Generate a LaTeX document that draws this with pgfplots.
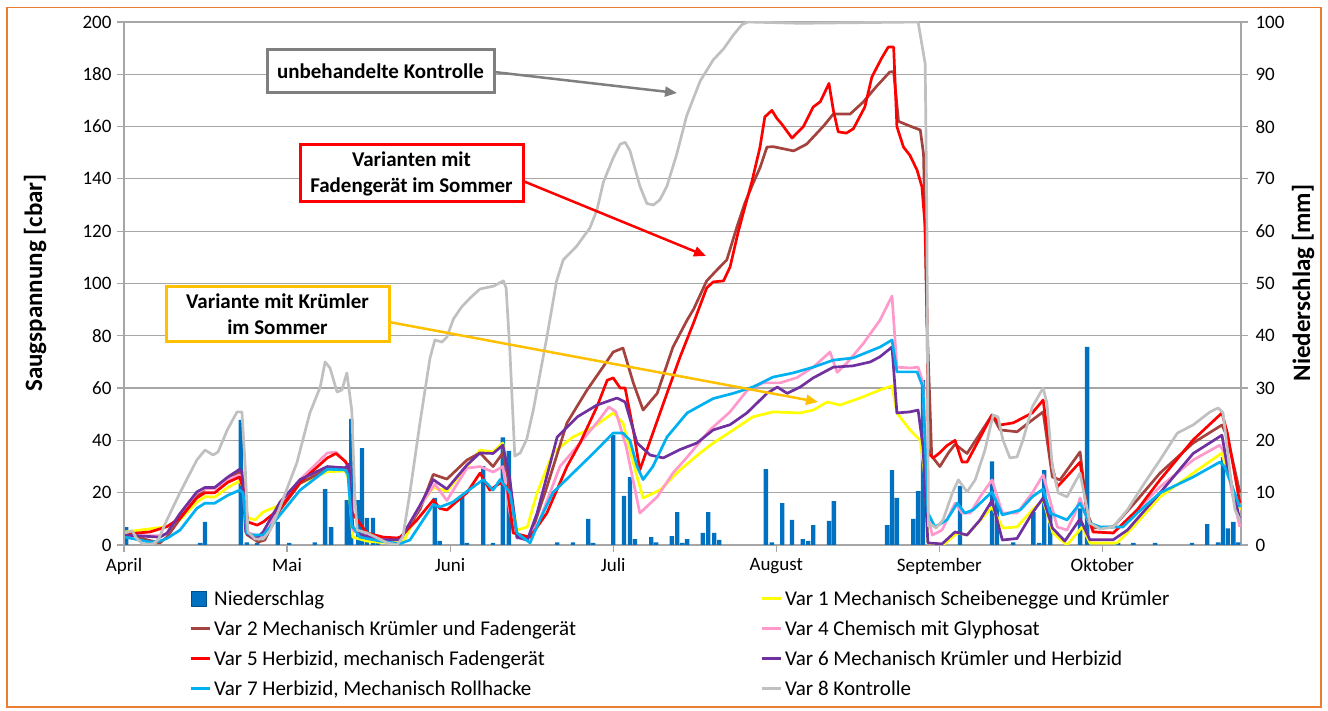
\documentclass[border=0pt]{standalone}
\usepackage{fontspec}
\setmainfont{Carlito}
\usepackage{pgfplots}
\pgfplotsset{compat=1.18}
\usetikzlibrary{arrows.meta}
\definecolor{cYel}{RGB}{255,255,0}
\definecolor{cBrn}{RGB}{164,66,62}
\definecolor{cPnk}{RGB}{255,153,204}
\definecolor{cRed}{RGB}{255,0,0}
\definecolor{cPur}{RGB}{112,48,160}
\definecolor{cBlu}{RGB}{0,176,240}
\definecolor{cGry}{RGB}{192,192,192}
\definecolor{cBar}{RGB}{0,112,192}
\definecolor{cGrid}{RGB}{166,166,166}
\definecolor{cOrg}{RGB}{237,125,49}
\definecolor{cGold}{RGB}{255,192,0}
\definecolor{cBox}{RGB}{127,127,127}
\begin{document}
\begin{tikzpicture}[x=1pt,y=1pt]
\useasboundingbox (0,0) rectangle (1328,711);
\draw[cOrg, line width=1.5pt] (7,4) rectangle (1321,703.5);
% ---------- precipitation (right axis) ----------
\begin{axis}[
  at={(124pt,166pt)}, anchor=south west,
  scale only axis, width=1117pt, height=523pt,
  xmin=0, xmax=205.5, ymin=0, ymax=100,
  axis x line*=bottom, axis y line*=right,
  axis line style={cGrid, line width=1.2pt},
  xtick={0,30,60,90,120,150,180},
  xticklabels={April,Mai,Juni,Juli,August,September,Oktober},
  ytick={0,10,...,100},
  ymajorgrids, grid style={cGrid, line width=1.2pt},
  tick align=outside, major tick length=7pt,
  tick style={cGrid, line width=1.2pt},
  ticklabel style={font=\fontsize{19}{21}\selectfont},
  /pgf/number format/assume math mode=true,
  xticklabel style={yshift=-3pt},
  yticklabel style={xshift=4pt},
]
\addplot[ybar, bar width=0.8, fill=cBar, draw=none] coordinates {
(0.4,3.4) (14.0,0.4) (14.9,4.4) (21.5,23.9) (22.6,0.5) (24.5,0.4) (28.3,4.4) (30.4,0.4)
(35.1,0.5) (37.0,10.7) (38.1,3.4) (41.0,8.6) (41.8,24.1) (43.1,8.6) (43.8,18.5) (44.7,5.2)
(45.8,5.2) (46.7,0.5) (57.2,9) (58.1,0.8) (62.2,9.2) (63.1,0.4) (66.1,15.1) (67.9,0.4)
(69.7,20.6) (70.8,18) (79.7,0.5) (82.6,0.5) (85.4,5) (86.3,0.4) (90.0,21) (92.0,9.4)
(93.1,13) (94.0,1.1) (97.0,1.5) (97.9,0.5) (100.8,1.7) (101.8,6.3) (102.7,0.4) (103.6,1.1)
(106.5,2.3) (107.5,6.3) (108.6,2.3) (109.5,1) (118.1,14.5) (119.2,0.5) (121.1,8) (122.9,4.8)
(124.9,1.1) (125.9,0.8) (126.8,3.8) (129.7,4.6) (130.6,8.4) (140.4,3.8) (141.3,14.3) (142.2,9)
(145.2,5) (146.1,10.3) (147.0,31.5) (153.8,11.3) (159.7,16) (160.6,9) (163.6,0.5) (167.3,6.3)
(168.4,0.4) (169.3,14.3) (170.4,7.3) (175.9,7) (177.2,37.9) (182.9,0.4) (185.7,0.4) (189.7,0.4)
(196.5,0.4) (199.3,4) (201.3,0.5) (202.2,16.8) (203.1,3.2) (204.1,4.4) (205.0,0.5)
};
\end{axis}
% ---------- tension lines (left axis) ----------
\begin{axis}[
  at={(124pt,166pt)}, anchor=south west,
  scale only axis, width=1117pt, height=523pt,
  xmin=0, xmax=205.5, ymin=0, ymax=200,
  axis x line=none, axis y line*=left,
  axis line style={cGrid, line width=1.2pt},
  ytick={0,20,...,200},
  tick align=outside, major tick length=7pt,
  tick style={cGrid, line width=1.2pt},
  ticklabel style={font=\fontsize{19}{21}\selectfont},
  /pgf/number format/assume math mode=true,
  yticklabel style={xshift=-2pt},
  legend columns=2,
  legend cell align=left,
  legend style={at={(0.0555,-0.083)}, anchor=north west, draw=none, fill=none,
    font=\fontsize{21}{23}\selectfont,
    nodes={inner sep=0pt, anchor=west}, row sep=14pt,
    /tikz/every odd column/.append style={column sep=3pt}},
  legend image code/.code={\draw[#1, line width=3pt] (0pt,0pt) -- (19pt,0pt);},
  every axis plot/.append style={line width=2.7pt, line join=round},
]
\addlegendimage{draw=none, legend image code/.code={\fill[cBar] (1pt,-7.5pt) rectangle (16pt,7.5pt); \draw[cBar!70!black, line width=0.8pt] (1pt,-7.5pt) rectangle (16pt,7.5pt);}}
\addlegendentry{\makebox[546pt][l]{Niederschlag}}
\addplot[cYel] coordinates {
(0.2,5) (4.2,6) (7.9,7) (10.3,9.6) (13.4,16.4) (14.9,18.5) (16.7,18.3) (19.1,22) (21.3,24.5) (21.9,22) (22.4,10.7) (24.1,9.6) (25.6,12.6) (28.7,15.3) (32.4,23.6) (37.4,28) (40.7,28.3) (41.2,26) (42.1,3) (44.7,1.5) (47.1,1) (50.8,1) (51.5,1.5) (54.5,15) (56.9,22) (59.4,20.6) (63.1,30) (65.5,36.3) (67.9,35.6) (69.7,39) (71.0,22.2) (72.3,5.7) (74.2,6.9) (76.0,19.9) (78.9,35.2) (82.6,41.3) (86.3,45) (90.0,50.5) (91.8,46.7) (94.4,26) (95.5,18) (98.6,21) (102.3,28.7) (106.0,35.2) (108.4,39) (112.1,44) (115.7,49) (119.4,50.9) (124.4,50.5) (126.8,51.6) (129.4,54.7) (131.7,53.5) (135.4,56.2) (139.1,59.3) (141.3,60.8) (142.2,50.5) (144.6,44) (146.5,40) (147.4,24.9) (147.9,0.8) (150.7,0) (153.3,4.6) (155.1,3.8) (159.7,14.5) (161.7,6.5) (164.3,6.9) (167.1,13.4) (169.1,17.2) (170.9,4.6) (173.5,0) (176.3,6.9) (177.7,0.8) (182.7,0.8) (185.7,6.9) (190.6,18.4) (196.7,27.5) (202.0,35.2) (203.0,27.5) (205.3,13.4)
};
\addlegendentry{Var 1 Mechanisch Scheibenegge und Krümler}
\addplot[cBrn] coordinates {
(0.2,4.6) (1.7,3.8) (4.2,2) (6.6,0.8) (7.9,3) (10.3,10) (13.4,18.5) (14.9,21.5) (16.7,22) (19.1,25.5) (21.3,28) (21.9,25) (22.6,4) (24.7,1.1) (25.9,1.9) (28.7,13.4) (32.4,23.6) (37.4,29) (40.7,29.5) (41.4,29) (42.1,6.5) (43.4,4) (47.1,2.5) (50.8,2) (54.5,13.8) (56.9,27) (59.4,25.2) (63.1,32.5) (65.5,35.2) (67.9,30) (69.7,35.2) (71.0,22.2) (72.3,2.7) (74.7,3) (77.8,22.2) (81.5,46.7) (85.2,59.3) (88.1,68) (90.0,73.8) (91.8,75.3) (93.7,62) (95.5,51.6) (98.1,58) (101.0,75.7) (103.6,86) (104.8,90.2) (107.2,101) (109.1,105.2) (110.9,109) (112.7,121.2) (114.2,130.6) (115.8,138.6) (117.0,144.2) (118.3,152.2) (119.5,152.3) (123.2,150.7) (125.6,153.3) (128.7,160.2) (130.5,164.8) (133.6,164.8) (136.0,169.4) (138.5,175.5) (140.9,180.9) (141.6,181) (142.5,162) (144.6,160.2) (146.5,158.7) (147.1,149.5) (147.7,87.6) (148.6,34) (150.1,30) (151.7,35.3) (152.9,38.5) (155.1,35) (159.7,49.7) (161.2,44) (164.3,43.3) (167.1,47.8) (169.1,50.9) (170.8,26) (172.2,24.9) (175.9,35.6) (177.2,12.2) (178.3,6.5) (182.0,6.9) (186.4,17.2) (190.6,27.5) (196.7,39) (202.0,45.9) (203.0,41.3) (205.3,20)
};
\addlegendentry{\makebox[546pt][l]{Var 2 Mechanisch Krümler und Fadengerät}}
\addplot[cPnk] coordinates {
(0.2,3.5) (6.6,3.5) (7.9,4.5) (10.3,12) (13.4,20) (14.9,21.5) (16.7,21.5) (19.1,25) (21.3,26.8) (21.9,24) (22.4,5) (24.1,3.8) (25.9,3) (28.7,15.3) (32.4,25) (37.4,35.2) (39.0,35.5) (40.7,31.8) (41.4,30) (42.1,5.7) (43.4,4) (47.1,2.5) (50.8,2) (54.5,15) (57.2,23.3) (59.4,17) (63.1,29.4) (65.5,30) (67.9,27.9) (69.7,30) (71.0,12.2) (72.3,3) (74.2,1.9) (76.5,9.6) (80.2,30) (83.9,39) (87.4,47.8) (89.2,52.8) (90.5,50.9) (92.4,37.5) (94.9,12.2) (98.1,18.4) (101.0,27.5) (103.6,33.6) (107.8,44) (111.5,50.9) (114.6,59) (117.6,62) (120.7,62) (123.8,64) (126.8,68) (129.9,73.8) (131.2,66) (133.0,69.6) (136.0,77) (139.1,86) (141.3,95.2) (142.2,68) (144.6,67.7) (146.1,68) (147.0,62) (147.8,12.2) (148.7,3.8) (150.5,5.7) (152.9,16) (154.2,12.2) (155.7,12.2) (157.5,18.4) (159.7,24.9) (161.6,12.2) (164.3,12.2) (167.1,19.9) (169.1,26.8) (170.0,20) (171.7,6.9) (173.5,5.7) (175.0,12.2) (175.9,18) (176.8,12.2) (178.3,5) (182.0,4.6) (184.6,9.6) (190.6,22.2) (196.7,32.5) (201.6,38.2) (202.5,35.2) (204.0,18.4) (205.3,6.9)
};
\addlegendentry{Var 4 Chemisch mit Glyphosat}
\addplot[cRed] coordinates {
(0.2,4.2) (4.8,5) (7.9,7) (10.3,10.3) (13.4,18) (14.9,20) (16.7,20) (19.1,24) (21.3,26) (22.1,20) (22.8,8.8) (24.5,7.6) (25.6,8.8) (28.7,14) (32.4,24) (37.4,33.3) (39.0,35) (40.7,32) (41.3,30) (41.9,12.6) (42.9,9.6) (44.7,4.6) (47.7,3) (50.2,2.7) (50.8,3) (53.9,9.6) (56.9,17.2) (58.1,14) (59.4,13.4) (63.1,20) (65.5,27.5) (67.3,21) (69.2,23.7) (70.5,22.2) (71.6,4.6) (74.7,3) (77.8,12.2) (81.5,30) (83.9,39) (87.0,52.8) (88.9,63) (90.0,63.9) (91.3,60) (92.2,60) (93.7,44) (94.9,28.7) (97.3,42.8) (99.9,58) (102.3,71.9) (104.8,85) (107.2,98.3) (108.4,100.6) (110.3,101) (111.5,106.3) (113.0,119.7) (114.2,129) (115.5,138.8) (117.0,152) (117.9,163.7) (119.2,166.2) (120.1,163.2) (121.0,161) (122.9,155.6) (125.0,160) (126.8,167.5) (128.1,169.5) (129.7,176.5) (130.5,166.3) (131.4,158) (132.9,157.5) (134.2,159.2) (136.3,167.5) (137.6,179) (139.4,186.2) (140.6,190.4) (141.6,190.4) (142.2,160) (143.4,152.2) (144.6,149) (145.9,143.4) (146.8,137) (147.4,121.6) (147.7,93.7) (148.0,35) (148.9,33.3) (150.1,35.3) (151.4,38) (152.9,40) (154.2,31.7) (155.1,31.7) (159.7,49.7) (161.2,45.9) (163.6,46.7) (167.1,50.5) (169.1,55.4) (170.8,29.8) (171.7,22.2) (175.9,31.7) (177.2,12.2) (178.3,5) (182.0,4.6) (186.4,13.4) (190.6,24.9) (196.7,40.2) (202.0,50.5) (203.0,42.8) (205.3,16)
};
\addlegendentry{\makebox[546pt][l]{Var 5 Herbizid, mechanisch Fadengerät}}
\addplot[cPur] coordinates {
(0.2,3.8) (6.6,3) (7.9,4.5) (10.3,12) (13.4,20.3) (14.9,22) (16.7,22) (19.1,26) (21.3,29) (21.7,28) (22.4,5) (23.6,3) (24.5,2.7) (25.6,5) (28.7,16.4) (32.4,25) (37.4,30) (40.7,29.5) (41.4,31) (42.1,6.9) (43.4,4) (47.1,2) (50.8,2) (54.5,15.3) (56.9,25) (59.4,21.4) (63.1,30.6) (65.5,35.2) (67.9,35) (69.7,38.2) (71.0,25) (72.3,3) (74.2,1.9) (76.0,12.2) (79.7,41.3) (83.4,49) (87.0,53.5) (90.7,56.2) (92.2,54.7) (94.4,39) (96.8,34.4) (99.2,33.3) (102.3,36.5) (105.4,39) (108.4,44) (111.5,46) (114.6,50.5) (118.3,58) (120.2,60.4) (122.0,58) (124.4,60.4) (126.8,63.9) (130.5,68) (134.1,68.5) (137.3,70) (139.1,72) (141.3,75.7) (142.2,50.5) (144.6,50.9) (146.1,51.6) (147.0,37.5) (147.9,0.8) (150.5,0.4) (152.9,5) (155.1,3.8) (157.5,9.6) (159.7,17) (161.6,1.9) (164.3,2.5) (167.1,12.2) (169.1,18) (170.8,6.5) (173.1,1.5) (175.9,10) (177.7,2) (182.0,2) (184.6,5.7) (190.6,19.9) (196.7,35) (202.0,42) (203.0,30) (205.3,9.6)
};
\addlegendentry{Var 6 Mechanisch Krümler und Herbizid}
\addplot[cBlu] coordinates {
(0.2,3) (4.8,1.1) (6.6,1.5) (7.9,2.5) (10.3,5.7) (13.4,14) (14.9,16) (16.7,16) (19.1,19) (21.3,21) (21.9,20) (22.6,4.6) (23.7,3.8) (25.6,3.8) (26.9,6.9) (28.7,11.5) (32.4,21) (37.4,29) (40.7,28.7) (41.2,27) (41.9,7.6) (43.4,3) (47.1,1.5) (50.8,0.5) (52.6,1.9) (56.9,15.5) (58.1,14.5) (60.5,16.4) (63.1,20.5) (66.1,25) (67.9,21) (69.2,25) (71.0,20) (72.3,4.6) (74.7,0.8) (76.5,9.6) (78.9,20) (82.6,27.5) (86.3,35) (90.0,42.8) (91.8,42.8) (93.1,40) (94.4,30) (95.5,25) (97.3,30) (99.9,41.3) (103.6,50.5) (108.4,56) (112.1,58) (115.7,60.4) (119.4,64.2) (123.1,65.8) (126.8,68) (130.5,70.7) (134.1,71.5) (139.1,75.7) (141.3,78.4) (142.2,66.2) (145.9,66.2) (147.0,60.4) (147.9,12.2) (149.2,6.9) (151.4,9.6) (153.3,16) (154.7,12.2) (156.2,13.4) (159.7,20.3) (161.6,11.5) (164.9,13.4) (167.1,18.4) (169.1,21.4) (170.4,12.2) (173.5,9.6) (175.9,16) (177.7,8.4) (179.6,6.9) (183.8,6.9) (186.4,12.2) (190.6,19.9) (196.7,26) (201.6,31.7) (202.5,30) (205.3,14.5)
};
\addlegendentry{\makebox[546pt][l]{Var 7 Herbizid, Mechanisch Rollhacke}}
\addplot[cGry] coordinates {
(0.2,4.6) (1.5,5.4) (2.4,2.3) (3.5,0.4) (5.3,0.4) (6.3,2) (7.9,9.6) (10.3,20) (13.4,32.5) (14.9,36.3) (16.4,34.4) (17.3,35.6) (19.0,44) (20.8,50.9) (21.7,50.9) (22.3,30) (22.8,5) (24.1,2.3) (25.6,2.3) (26.9,5.7) (28.7,14.5) (31.8,31.4) (34.2,50.5) (36.1,60.4) (37.0,70) (37.9,67.7) (39.2,58.5) (40.1,59.3) (41.0,65.8) (41.9,51.6) (42.5,17.2) (42.9,5.7) (44.7,4.6) (46.6,2.7) (48.4,0.8) (50.2,0) (51.3,3) (52.6,20) (54.5,47.4) (56.3,71.5) (57.2,78.4) (58.5,77.6) (59.4,79.5) (60.6,86.4) (62.1,91) (63.7,94.5) (65.5,97.9) (68.0,99) (69.8,101) (70.3,98.3) (71.0,74) (71.9,34) (72.9,35.2) (74.1,40.5) (75.3,51.6) (76.5,65) (77.8,79.5) (79.6,101) (80.8,109) (83.3,114.3) (85.7,121.2) (87.0,128) (88.2,138.8) (90.0,148) (91.3,153.3) (92.2,154) (93.1,150.7) (94.9,137.3) (96.2,130.6) (97.4,130) (98.6,132) (99.9,137.3) (101.7,149.5) (103.5,164) (104.8,171) (106.0,177.4) (108.4,185.5) (110.3,189.7) (112.1,195) (113.7,199) (114.8,200) (124.4,199.5) (146.1,200) (147.4,184) (147.7,128) (148.0,7.3) (148.7,7.6) (149.4,6.5) (150.7,9.6) (152.4,19.9) (153.5,24.9) (155.1,20.3) (156.6,24.9) (158.4,36.3) (159.9,49.7) (160.8,49) (161.7,40.2) (163.0,33.3) (164.3,33.7) (165.4,40.2) (167.1,52.8) (169.1,60) (169.8,54.3) (170.8,29.8) (171.9,19.9) (173.5,18.4) (175.9,27.5) (176.6,19.9) (177.7,8.4) (179.6,6.1) (182.0,6.9) (184.6,13.4) (187.5,22.9) (190.6,32.5) (193.8,42.8) (196.7,45.9) (199.8,50.9) (201.3,52.4) (202.2,50.5) (203.5,27.5) (204.4,13.4) (205.3,9.6)
};
\addlegendentry{Var 8 Kontrolle}
\end{axis}
% ---------- axis titles ----------
\node[rotate=90, font=\bfseries\fontsize{25}{28}\selectfont] at (35,428) {Saugspannung [cbar]};
\node[rotate=90, font=\bfseries\fontsize{25}{28}\selectfont] at (1303,428) {Niederschlag [mm]};
% ---------- callouts ----------
\draw[cBox, line width=2.5pt, -{Triangle[length=12pt,width=10pt]}] (494,639) -- (677,618);
\draw[cRed, line width=2.5pt, -{Triangle[length=12pt,width=10pt]}] (523,530) -- (706,455);
\draw[cGold, line width=2.5pt, -{Triangle[length=12pt,width=10pt]}] (389,389) -- (818,309);
\node[draw=cBox, fill=white, line width=3pt, minimum width=227pt, minimum height=43pt, inner sep=0pt,
  font=\bfseries\fontsize{21}{25}\selectfont] at (380.5,639.5) {unbehandelte Kontrolle};
\node[draw=cRed, fill=white, line width=3pt, minimum width=223pt, minimum height=57pt, inner sep=0pt, align=center,
  font=\bfseries\fontsize{21}{26}\selectfont] at (411.5,537.5) {Varianten mit\\Fadengerät im Sommer};
\node[draw=cGold, fill=white, line width=3pt, minimum width=223pt, minimum height=55pt, inner sep=0pt, align=center,
  font=\bfseries\fontsize{21}{26}\selectfont] at (277.5,396.5) {Variante mit Krümler\\im Sommer};
\end{tikzpicture}
\end{document}
